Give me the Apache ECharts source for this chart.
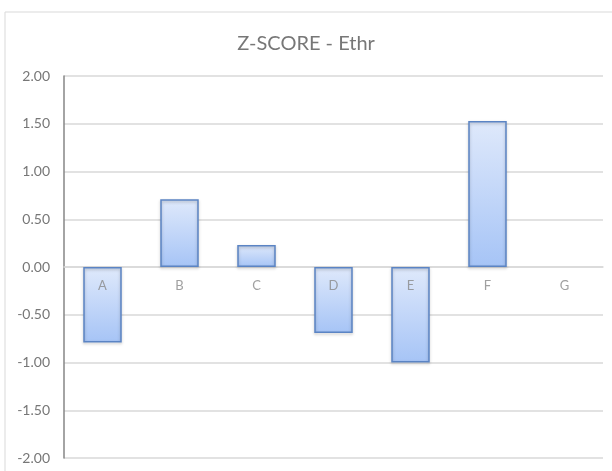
<!DOCTYPE html>
<html>
<head>
<meta charset="utf-8">
<style>
  html, body { margin: 0; padding: 0; background: #fff; }
  #zscore { width: 612px; height: 471px; }
</style>
<script src="https://cdn.jsdelivr.net/npm/echarts@6/dist/echarts.min.js"></script>
</head>
<body>
<div id="zscore"></div>
<script>
// data
var categories = ['A', 'B', 'C', 'D', 'E', 'F', 'G'];
var zscores = [-0.79, 0.71, 0.23, -0.69, -1.00, 1.53, null];
var yMin = -2, yMax = 2, yStep = 0.5;

var chart = echarts.init(document.getElementById('zscore'));

var option = {
    backgroundColor: '#fff',
    textStyle: { fontFamily: 'Lato' },

    // outer chart frame
    graphic: [{
        type: 'rect',
        shape: { x: 5, y: 12, width: 640, height: 480 },
        style: { fill: 'none', stroke: '#d9d9d9', lineWidth: 1 },
        silent: true
    }],

    title: {
        text: 'Z-SCORE - Ethr',
        left: 'center',
        top: 29,
        textStyle: { color: '#777', fontSize: 20, fontWeight: 'normal', fontFamily: 'Lato' }
    },

    grid: { left: 64, right: 9, top: 76, bottom: 13, outerBoundsMode: 'none', containLabel: false },

    xAxis: {
        type: 'category',
        data: categories,
        axisLine: { show: true, onZero: true, lineStyle: { color: '#d9d9d9', width: 1.5 } },
        axisTick: { show: false },
        axisLabel: { show: false }
    },

    yAxis: {
        type: 'value',
        min: yMin,
        max: yMax,
        interval: yStep,
        axisLine: { show: true, lineStyle: { color: '#868686', width: 1.5 } },
        axisTick: { show: false },
        axisLabel: {
            color: '#777',
            fontSize: 14,
            margin: 14,
            formatter: function (v) { return v.toFixed(2); }
        },
        splitLine: { lineStyle: { color: '#d9d9d9', width: 1.5 } }
    },

    series: [{
        type: 'bar',
        data: zscores,
        barWidth: '50%',
        itemStyle: {
            color: new echarts.graphic.LinearGradient(0, 0, 0, 1, [
                { offset: 0, color: '#dfe9fb' },
                { offset: 1, color: '#a6c4f6' }
            ]),
            borderColor: '#5b84c4',
            borderWidth: 1.5,
            shadowBlur: 3,
            shadowOffsetY: 1.5,
            shadowColor: 'rgba(0,0,0,0.25)'
        }
    }, {
        // category names sit just under the zero line, as in Excel
        type: 'scatter',
        data: categories.map(function (c) { return [c, 0]; }),
        symbolSize: 0,
        silent: true,
        z: 5,
        label: {
            show: true,
            position: 'bottom',
            distance: 12,
            color: '#888',
            fontSize: 13,
            formatter: function (p) { return p.value[0]; }
        }
    }]
};

chart.setOption(option);
</script>
</body>
</html>
